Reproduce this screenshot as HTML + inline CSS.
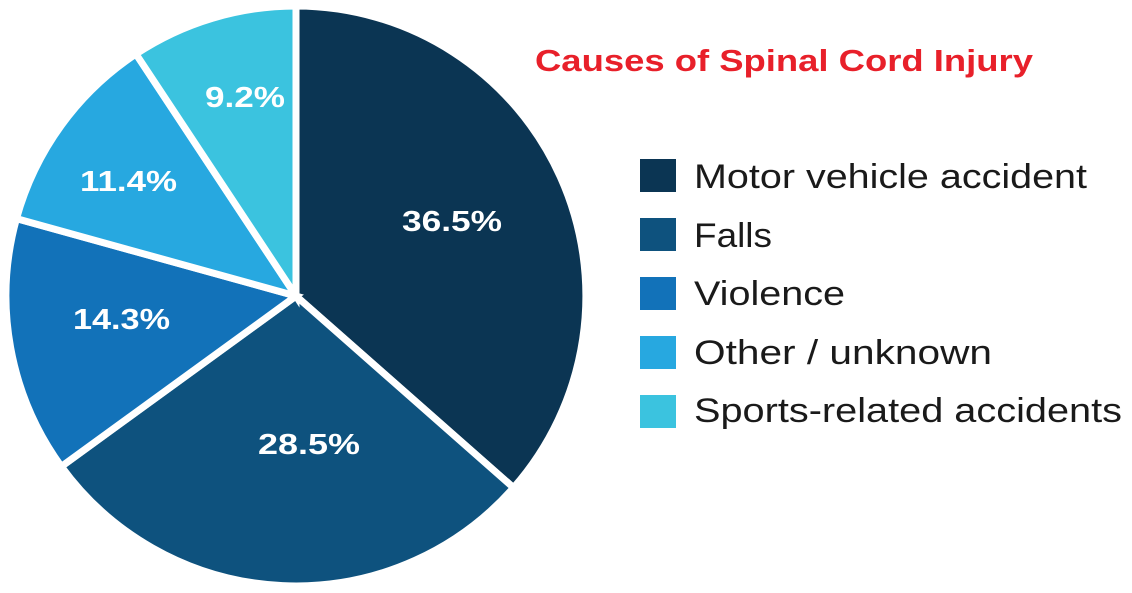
<!DOCTYPE html>
<html><head><meta charset="utf-8"><style>
html,body{margin:0;padding:0;background:#fff;width:1132px;height:593px;overflow:hidden}
</style></head><body>
<svg width="1132" height="593" viewBox="0 0 1132 593" xmlns="http://www.w3.org/2000/svg" font-family="Liberation Sans, sans-serif">
<g stroke="#fff" stroke-width="7" stroke-linejoin="miter">
<path d="M296,296 L296,6 A290,290 0 0 1 513.5,487.7 Z" fill="#0b3553"/>
<path d="M296,296 L513.5,487.7 A290,290 0 0 1 61.4,466.5 Z" fill="#0e527e"/>
<path d="M296,296 L61.4,466.5 A290,290 0 0 1 16.5,218.6 Z" fill="#1272b9"/>
<path d="M296,296 L16.5,218.6 A290,290 0 0 1 136,54 Z" fill="#27a8e0"/>
<path d="M296,296 L136,54 A290,290 0 0 1 296,6 Z" fill="#3bc3df"/>
</g>
<g fill="#fff" font-weight="bold" font-size="29" lengthAdjust="spacingAndGlyphs">
<text x="402" y="231" textLength="100" lengthAdjust="spacingAndGlyphs">36.5%</text>
<text x="258" y="454" textLength="102" lengthAdjust="spacingAndGlyphs">28.5%</text>
<text x="73" y="329" textLength="97" lengthAdjust="spacingAndGlyphs">14.3%</text>
<text x="80" y="191" textLength="97" lengthAdjust="spacingAndGlyphs">11.4%</text>
<text x="205" y="107" textLength="80" lengthAdjust="spacingAndGlyphs">9.2%</text>
</g>
<text x="535" y="71" fill="#e8202a" font-weight="bold" font-size="31" textLength="498" lengthAdjust="spacingAndGlyphs">Causes of Spinal Cord Injury</text>
<g font-size="34" fill="#1a1a1a">
<rect x="640" y="159" width="36" height="33" fill="#0b3553"/><text x="694" y="188" textLength="393" lengthAdjust="spacingAndGlyphs">Motor vehicle accident</text>
<rect x="640" y="218" width="36" height="33" fill="#0e527e"/><text x="694" y="247" textLength="78" lengthAdjust="spacingAndGlyphs">Falls</text>
<rect x="640" y="277" width="36" height="33" fill="#1272b9"/><text x="694" y="305" textLength="151" lengthAdjust="spacingAndGlyphs">Violence</text>
<rect x="640" y="336" width="36" height="33" fill="#27a8e0"/><text x="694" y="364" textLength="298" lengthAdjust="spacingAndGlyphs">Other / unknown</text>
<rect x="640" y="395" width="36" height="33" fill="#3bc3df"/><text x="694" y="422" textLength="428" lengthAdjust="spacingAndGlyphs">Sports-related accidents</text>
</g>
</svg>
</body></html>
